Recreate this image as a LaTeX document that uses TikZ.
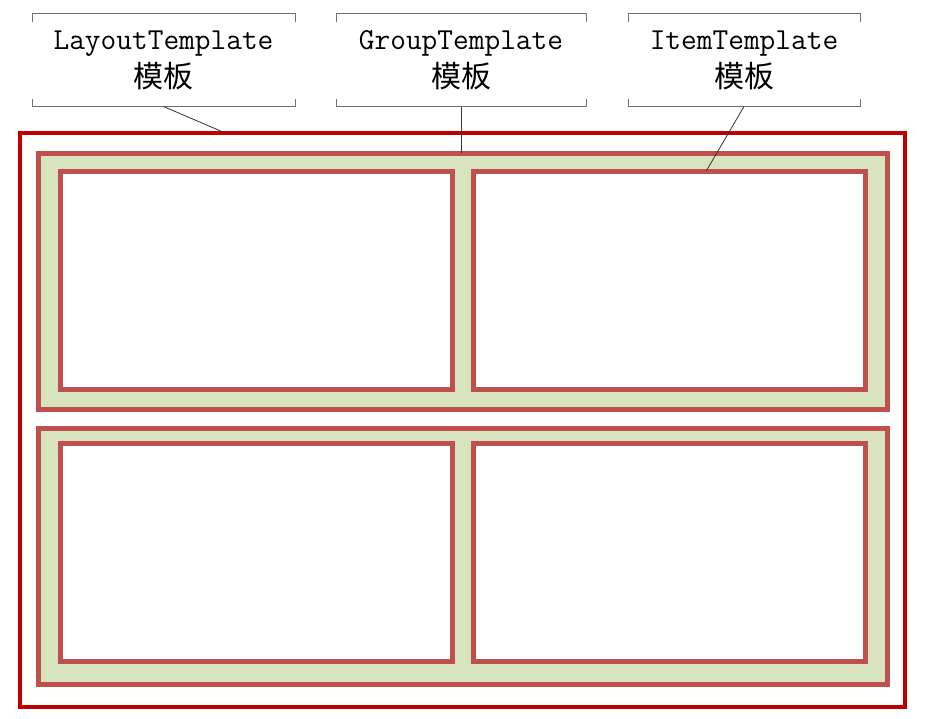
\documentclass[tikz,border=0pt]{standalone}
\usepackage{fontspec}
\newfontfamily\cjk{Noto Sans CJK SC}
\usetikzlibrary{positioning,calc}

\definecolor{framered}{HTML}{C00000}
\definecolor{boxred}{HTML}{C0504D}
\definecolor{groupfill}{HTML}{D7E4BD}
\definecolor{leadgray}{HTML}{707070}

\begin{document}
\begin{tikzpicture}[
    x=1pt, y=-1pt,
    outerbox/.style={rectangle, draw=framered, line width=4pt, inner sep=0pt, outer sep=0pt,
                     minimum width=885pt, minimum height=574pt},
    groupbox/.style={rectangle, draw=boxred, fill=groupfill, line width=5pt, inner sep=0pt, outer sep=0pt,
                     minimum width=849pt, minimum height=256pt},
    itembox/.style={rectangle, draw=boxred, fill=white, line width=5pt, inner sep=0pt, outer sep=0pt,
                    minimum width=392pt, minimum height=218pt},
    callout/.style={rectangle, inner sep=0pt, outer sep=0pt, minimum height=93pt, align=center,
                    font=\fontsize{30.5}{38}\selectfont\ttfamily},
    bracket/.style={draw=leadgray, line width=0.8pt},
    leader/.style={draw=black!80, line width=0.8pt},
    node distance=19pt and 21pt
]
\useasboundingbox (0,0) rectangle (928,718);

% outer frame and the two groups
\node[outerbox] (outer) at (462.5,420) {};
\node[groupbox] (grpA) at (462.5,281) {};
\node[groupbox, below=of grpA] (grpB) {};

% items
\node[itembox] (itemA) at (256,280) {};
\node[itembox, right=of itemA] (itemB) {};
\node[itembox] (itemC) at (256,552.5) {};
\node[itembox, right=of itemC] (itemD) {};

% callouts
\node[callout, minimum width=263pt] (lay) at (163.5,60) {LayoutTemplate\\{\cjk\fontsize{30}{38}\selectfont 模板}};
\node[callout, minimum width=250pt] (grp) at (461,60) {GroupTemplate\\{\cjk\fontsize{30}{38}\selectfont 模板}};
\node[callout, minimum width=232pt] (itm) at (744,60) {ItemTemplate\\{\cjk\fontsize{30}{38}\selectfont 模板}};

\foreach \c in {lay,grp,itm}{
  \draw[bracket] ([yshift=-8pt]\c.north west) -- (\c.north west) -- (\c.north east) -- ([yshift=-8pt]\c.north east);
  \draw[bracket] ([yshift=8pt]\c.south west) -- (\c.south west) -- (\c.south east) -- ([yshift=8pt]\c.south east);
}

% leaders
\coordinate (layend) at ($(outer.north west)!0.232!(outer.north east)$);
\coordinate (itmend) at ($(itemB.north west)!0.595!(itemB.north east)$);
\draw[leader] (lay.south) -- (layend);
\draw[leader] (grp.south) -- (grp.south |- grpA.north);
\draw[leader] (itm.south) -- (itmend);
\end{tikzpicture}
\end{document}
